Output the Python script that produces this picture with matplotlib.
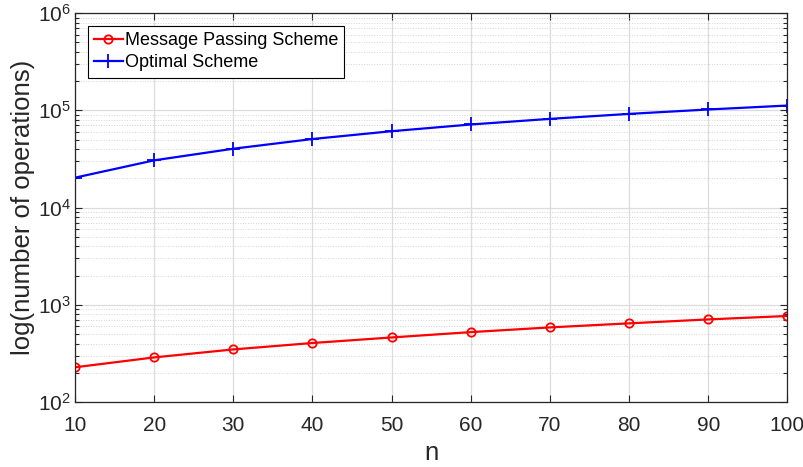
import matplotlib
matplotlib.use("Agg")
import matplotlib.pyplot as plt
from matplotlib.ticker import LogLocator, NullFormatter, FixedLocator

plt.rcParams['font.family'] = ['Liberation Sans', 'DejaVu Sans']

n = [10, 20, 30, 40, 50, 60, 70, 80, 90, 100]
message_passing = [228, 288, 348, 405, 462, 524, 586, 645, 708, 768]
optimal = [20300, 30600, 40300, 50700, 61000, 71500, 81700, 91900, 102000, 112000]

fig = plt.figure(figsize=(8.04, 4.67), dpi=100)
ax = fig.add_axes([0.0933, 0.139, 0.886, 0.833])

ax.semilogy(n, message_passing, color='red', marker='o', markersize=6,
            markerfacecolor='none', markeredgewidth=1.3, linewidth=1.6,
            label='Message Passing Scheme')
ax.semilogy(n, optimal, color='blue', marker='+', markersize=10,
            markeredgewidth=1.3, linewidth=1.6, label='Optimal Scheme')

ax.set_xlim(10, 100)
ax.set_ylim(1e2, 1e6)
ax.xaxis.set_major_locator(FixedLocator(n))
ax.yaxis.set_major_locator(LogLocator(base=10, numticks=10))
ax.yaxis.set_minor_locator(LogLocator(base=10, subs=range(2, 10), numticks=50))
ax.yaxis.set_minor_formatter(NullFormatter())

ax.grid(True, which='major', color='#dcdcdc', linestyle='-', linewidth=0.9)
ax.grid(True, which='minor', axis='y', color='#d4d4d4', linestyle=':', linewidth=0.7)
ax.set_axisbelow(True)

ax.tick_params(which='both', direction='in', top=True, right=True,
               colors='#262626', labelsize=15)
ax.tick_params(which='major', length=5, width=0.8)
ax.tick_params(which='minor', length=3, width=0.8)
ax.tick_params(axis='x', pad=10)
ax.tick_params(axis='y', pad=3)
for s in ax.spines.values():
    s.set_color('#262626')
    s.set_linewidth(0.9)

ax.set_xlabel('n', fontsize=18.5, color='#262626', labelpad=4.5)
ax.set_ylabel('log(number of operations)', fontsize=18.5, color='#262626', labelpad=2)

leg = ax.legend(loc='upper left', fontsize=13, frameon=True, fancybox=False,
                edgecolor='black', framealpha=1, borderpad=0.35, labelspacing=0.3,
                handlelength=1.6, handletextpad=0.1, borderaxespad=0.7)
leg.get_frame().set_linewidth(0.8)

fig.savefig('out.png', dpi=100)
